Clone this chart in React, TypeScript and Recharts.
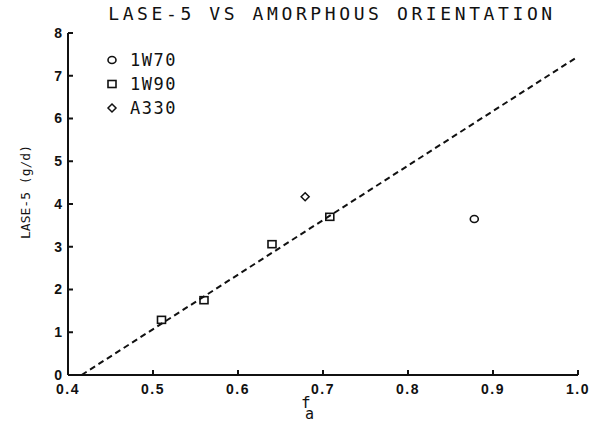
import { ScatterChart, Scatter, XAxis, YAxis, Legend } from "recharts";

const xTicks = [0.4, 0.5, 0.6, 0.7, 0.8, 0.9, 1.0];
const yTicks = [0, 1, 2, 3, 4, 5, 6, 7, 8];

const w70 = [{ x: 0.878, y: 3.65 }];
const w90 = [
  { x: 0.51, y: 1.29 },
  { x: 0.56, y: 1.75 },
  { x: 0.64, y: 3.06 },
  { x: 0.708, y: 3.7 },
];
const a330 = [{ x: 0.679, y: 4.17 }];
const fitLine = [
  { x: 0.416, y: 0 },
  { x: 1.0, y: 7.45 },
];

const seriesNames = ["1W70", "1W90", "A330"];
const markerKinds = ["circle", "square", "diamond"];

const ink = "#111";
const plotFont = "'DejaVu Sans Mono', monospace";
const tickFont = "'Liberation Sans', Arial, sans-serif";

function Marker({ kind, cx, cy }: { kind: string; cx: number; cy: number }) {
  if (kind === "circle") {
    return <ellipse cx={cx} cy={cy} rx={4} ry={3.5} fill="none" stroke={ink} strokeWidth={1.6} />;
  }
  if (kind === "square") {
    return <rect x={cx - 4} y={cy - 3.5} width={8} height={7} fill="none" stroke={ink} strokeWidth={1.6} />;
  }
  return (
    <polygon
      points={`${cx},${cy - 4} ${cx + 4},${cy} ${cx},${cy + 4} ${cx - 4},${cy}`}
      fill="none"
      stroke={ink}
      strokeWidth={1.5}
    />
  );
}

const renderLegend = () => (
  <div style={{ fontFamily: plotFont, fontSize: 17, color: ink, lineHeight: "24px" }}>
    {seriesNames.map((name, i) => (
      <div key={name} style={{ display: "flex", alignItems: "center" }}>
        <svg width={16} height={16} style={{ marginRight: 10 }}>
          <Marker kind={markerKinds[i]} cx={8} cy={8} />
        </svg>
        <span style={{ letterSpacing: 1.5 }}>{name}</span>
      </div>
    ))}
  </div>
);

const xLabel = (props: any) => {
  const vb = props.viewBox || {};
  const cx = vb.x + vb.width / 2 - 22;
  const y = vb.y + vb.height;
  return (
    <text fontFamily={plotFont} fill={ink}>
      <tspan x={cx} y={y - 15} fontSize={16}>f</tspan>
      <tspan x={cx + 4} y={y - 4} fontSize={15}>a</tspan>
    </text>
  );
};

const yLabel = (props: any) => {
  const vb = props.viewBox || {};
  const x = vb.x + 30;
  const y = vb.y + vb.height / 2 - 12;
  return (
    <text
      x={x}
      y={y}
      transform={`rotate(-90, ${x}, ${y})`}
      textAnchor="middle"
      fontFamily={plotFont}
      fontSize={13}
      fill={ink}
    >
      LASE-5 (g/d)
    </text>
  );
};

export default function App() {
  return (
    <div style={{ position: "absolute", left: 0, top: 0, width: 595, height: 423, background: "#fff" }}>
      <div
        style={{
          position: "absolute",
          left: 0,
          width: 664,
          top: 3,
          textAlign: "center",
          fontFamily: plotFont,
          fontSize: 18,
          letterSpacing: 3.6,
          color: ink,
        }}
      >
        LASE-5 VS AMORPHOUS ORIENTATION
      </div>
      <ScatterChart width={595} height={423} margin={{ top: 33, right: 17, left: 0, bottom: 0 }}>
        <XAxis
          type="number"
          dataKey="x"
          domain={[0.4, 1.0]}
          ticks={xTicks}
          tickFormatter={(v: number) => v.toFixed(1)}
          height={48}
          tickSize={-5}
          tickMargin={14}
          stroke={ink}
          strokeWidth={2}
          tick={{ fill: ink, fontSize: 14, fontWeight: 700, fontFamily: tickFont, letterSpacing: 1.5 }}
          label={xLabel}
        />
        <XAxis
          xAxisId="top"
          orientation="top"
          type="number"
          domain={[0.4, 1.0]}
          ticks={xTicks}
          tickFormatter={() => ""}
          height={0}
          tickSize={-4}
          stroke={ink}
          strokeWidth={1.5}
        />
        <YAxis
          type="number"
          dataKey="y"
          domain={[0, 8]}
          ticks={yTicks}
          width={68}
          tickSize={-5}
          tickMargin={11}
          stroke={ink}
          strokeWidth={2}
          tick={{ fill: ink, fontSize: 14, fontWeight: 700, fontFamily: tickFont }}
          label={yLabel}
        />
        <YAxis
          yAxisId="right"
          orientation="right"
          type="number"
          domain={[0, 8]}
          ticks={yTicks}
          tickFormatter={() => ""}
          width={0}
          tickSize={-4}
          stroke={ink}
          strokeWidth={2}
        />
        <Legend
          layout="vertical"
          align="center"
          verticalAlign="middle"
          wrapperStyle={{ position: "absolute", left: 104, top: 48, width: "auto" }}
          content={renderLegend}
        />
        <Scatter
          name="fit"
          data={fitLine}
          line={{ stroke: ink, strokeWidth: 2, strokeDasharray: "6 4" }}
          shape={() => null}
          isAnimationActive={false}
          legendType="none"
        />
        <Scatter
          name={seriesNames[0]}
          data={w70}
          shape={(p: any) => <Marker kind="circle" cx={p.cx} cy={p.cy} />}
          isAnimationActive={false}
        />
        <Scatter
          name={seriesNames[1]}
          data={w90}
          shape={(p: any) => <Marker kind="square" cx={p.cx} cy={p.cy} />}
          isAnimationActive={false}
        />
        <Scatter
          name={seriesNames[2]}
          data={a330}
          shape={(p: any) => <Marker kind="diamond" cx={p.cx} cy={p.cy} />}
          isAnimationActive={false}
        />
      </ScatterChart>
    </div>
  );
}
